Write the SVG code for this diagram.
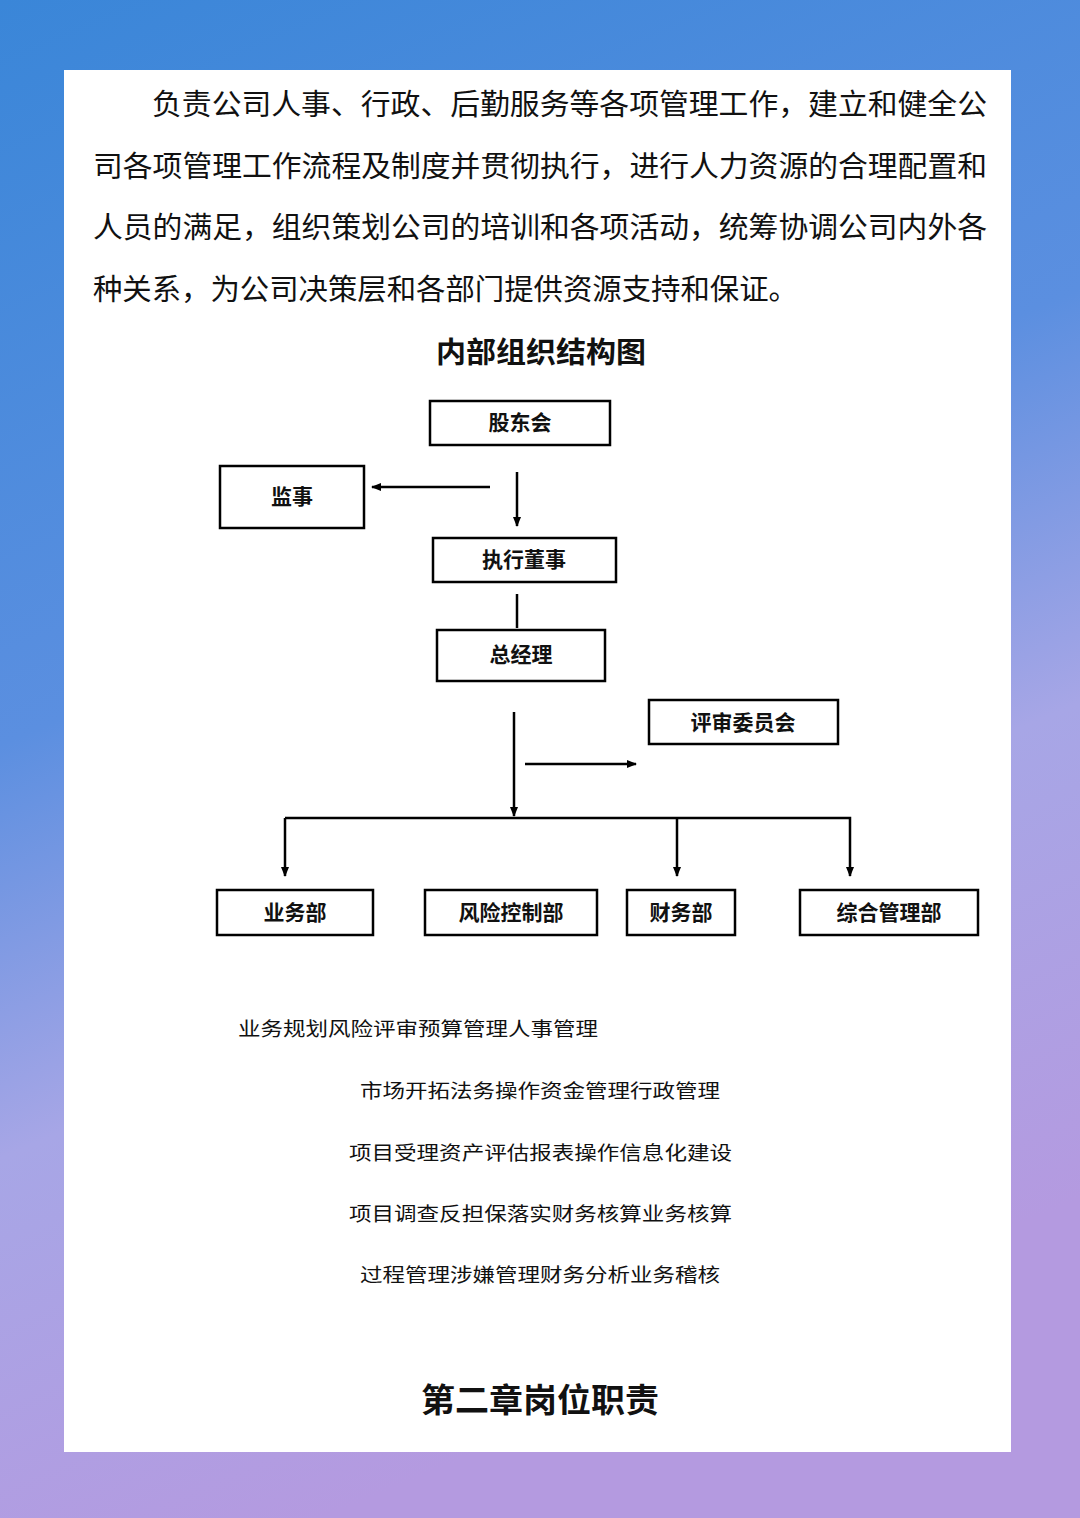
<svg xmlns="http://www.w3.org/2000/svg" width="1080" height="1518" viewBox="0 0 1080 1518">
<defs>
<linearGradient id="bg" x1="0" y1="0" x2="0.3" y2="1">
<stop offset="0" stop-color="#3a86d8"/>
<stop offset="0.45" stop-color="#5b8fe0"/>
<stop offset="0.7" stop-color="#a7a6e6"/>
<stop offset="1" stop-color="#b49ae0"/>
</linearGradient>
<marker id="ah" markerWidth="10" markerHeight="10" refX="9" refY="5" orient="auto" markerUnits="userSpaceOnUse">
<path d="M0,1 L10,5 L0,9 z" fill="#000"/>
</marker>
<style>
.t{font-family:"Noto Sans CJK SC","Noto Sans CJK JP",sans-serif;fill:#111}
.p{font-size:29px}
.b{font-size:21px;font-weight:bold;text-anchor:middle}
.s{font-size:19px}
.box{fill:#fff;stroke:#000;stroke-width:2.5}
.ln{stroke:#000;stroke-width:2.5;fill:none}
</style>
</defs>
<rect width="1080" height="1518" fill="url(#bg)"/>
<rect x="64" y="70" width="947" height="1382" fill="#fff"/>
<g id="para" class="t p">
<text x="152" y="115" textLength="835" lengthAdjust="spacingAndGlyphs">负责公司人事、行政、后勤服务等各项管理工作，建立和健全公</text>
<text x="93" y="177" textLength="894" lengthAdjust="spacingAndGlyphs">司各项管理工作流程及制度并贯彻执行，进行人力资源的合理配置和</text>
<text x="93" y="238" textLength="894" lengthAdjust="spacingAndGlyphs">人员的满足，组织策划公司的培训和各项活动，统筹协调公司内外各</text>
<text x="93" y="300" textLength="705" lengthAdjust="spacingAndGlyphs">种关系，为公司决策层和各部门提供资源支持和保证。</text>
</g>
<text class="t" x="541" y="363" font-size="29" font-weight="bold" text-anchor="middle" textLength="210" lengthAdjust="spacingAndGlyphs">内部组织结构图</text>
<g id="connectors">
<line class="ln" x1="490" y1="487" x2="372" y2="487" marker-end="url(#ah)"/>
<line class="ln" x1="517" y1="472" x2="517" y2="526" marker-end="url(#ah)"/>
<line class="ln" x1="517" y1="594" x2="517" y2="628"/>
<line class="ln" x1="514" y1="712" x2="514" y2="816" marker-end="url(#ah)"/>
<line class="ln" x1="525" y1="764" x2="636" y2="764" marker-end="url(#ah)"/>
<polyline class="ln" points="285,818 850,818 850,876" marker-end="url(#ah)"/>
<line class="ln" x1="285" y1="818" x2="285" y2="876" marker-end="url(#ah)"/>
<line class="ln" x1="677" y1="818" x2="677" y2="876" marker-end="url(#ah)"/>
</g>
<g id="n1"><rect class="box" x="430" y="401" width="180" height="44"/><text class="t b" x="520" y="430">股东会</text></g>
<g id="n2"><rect class="box" x="220" y="466" width="144" height="62"/><text class="t b" x="292" y="504">监事</text></g>
<g id="n3"><rect class="box" x="433" y="538" width="183" height="44"/><text class="t b" x="524" y="567">执行董事</text></g>
<g id="n4"><rect class="box" x="437" y="630" width="168" height="51"/><text class="t b" x="521" y="662">总经理</text></g>
<g id="n5"><rect class="box" x="649" y="700" width="189" height="44"/><text class="t b" x="743" y="730">评审委员会</text></g>
<g id="n6"><rect class="box" x="217" y="890" width="156" height="45"/><text class="t b" x="295" y="920">业务部</text></g>
<g id="n7"><rect class="box" x="425" y="890" width="172" height="45"/><text class="t b" x="511" y="920">风险控制部</text></g>
<g id="n8"><rect class="box" x="627" y="890" width="108" height="45"/><text class="t b" x="681" y="920">财务部</text></g>
<g id="n9"><rect class="box" x="800" y="890" width="178" height="45"/><text class="t b" x="889" y="920">综合管理部</text></g>
<g id="list" class="t s">
<text x="238" y="1036" textLength="360" lengthAdjust="spacingAndGlyphs">业务规划风险评审预算管理人事管理</text>
<text x="360" y="1098" textLength="360" lengthAdjust="spacingAndGlyphs">市场开拓法务操作资金管理行政管理</text>
<text x="349" y="1160" textLength="383" lengthAdjust="spacingAndGlyphs">项目受理资产评估报表操作信息化建设</text>
<text x="349" y="1221" textLength="383" lengthAdjust="spacingAndGlyphs">项目调查反担保落实财务核算业务核算</text>
<text x="360" y="1282" textLength="360" lengthAdjust="spacingAndGlyphs">过程管理涉嫌管理财务分析业务稽核</text>
</g>
<text class="t" x="540" y="1412" font-size="33" font-weight="bold" text-anchor="middle" textLength="238" lengthAdjust="spacingAndGlyphs">第二章岗位职责</text>
</svg>
